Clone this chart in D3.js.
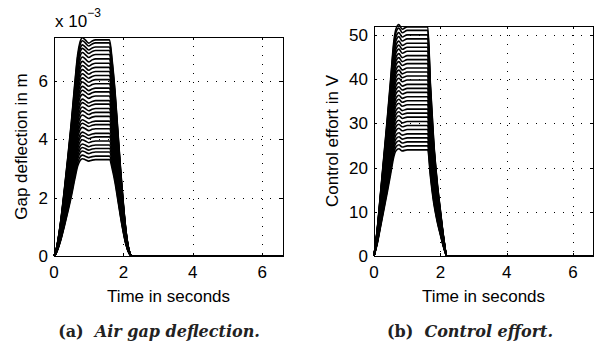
<!DOCTYPE html>
<html>
<head>
<meta charset="utf-8">
<script src="https://cdn.jsdelivr.net/npm/d3@7"></script>
<style>
  body { margin: 0; background: #fff; }
  svg { display: block; }
  text { font-family: "Liberation Sans", Arial, sans-serif; fill: #000; }
  .caption { font-family: "DejaVu Serif", "Liberation Serif", serif; font-weight: bold; fill: #222; }
</style>
</head>
<body>
<div id="chart"></div>
<script>
// plateau level of each run
const gapLevels = [0.00330, 0.00342, 0.00356, 0.00368, 0.00380, 0.00394, 0.00408, 0.00420,
  0.00436, 0.00450, 0.00462, 0.00478, 0.00492, 0.00505, 0.00520, 0.00532, 0.00548, 0.00562,
  0.00575, 0.00590, 0.00604, 0.00618, 0.00632, 0.00646, 0.00660, 0.00675, 0.00690, 0.00704,
  0.00716, 0.00730, 0.00740];
const effortLevels = [24.0, 24.9, 25.8, 26.7, 27.6, 28.6, 29.5, 30.4, 31.4, 32.3, 33.2,
  34.2, 35.1, 36.0, 37.0, 37.9, 38.8, 39.8, 40.7, 41.6, 42.5, 43.5, 44.4, 45.3, 46.3,
  47.2, 48.1, 49.1, 50.0, 51.0, 51.8];

// normalised time profile of one run (fraction of its plateau level)
const gapTime  = [0, 0.05, 0.1, 0.2, 0.3, 0.4, 0.5, 0.6, 0.68, 0.75, 0.82, 0.9, 1.0, 1.1, 1.2, 1.5,
  1.6, 1.68, 1.76, 1.84, 1.92, 2.0, 2.08, 2.16, 2.25, 6.6];
const gapShape = [0, 0.02, 0.06, 0.17, 0.31, 0.46, 0.62, 0.8, 0.93, 0.99, 1.01, 1.0, 0.985, 0.995, 1.0, 1.0,
  1.0, 0.9, 0.76, 0.58, 0.4, 0.24, 0.11, 0.03, 0, 0];
const effortTime  = [0, 0.1, 0.2, 0.3, 0.4, 0.5, 0.6, 0.66, 0.75, 0.85, 1.0, 1.55, 1.62,
  1.7, 1.8, 1.9, 2.0, 2.1, 2.2, 6.6];
const effortShape = [0, 0.12, 0.28, 0.44, 0.6, 0.77, 0.94, 0.99, 1.01, 0.99, 1.0, 1.0, 1.0,
  0.75, 0.5, 0.33, 0.2, 0.08, 0, 0];

const xTicks = [0, 2, 4, 6];
const gapTicks = [0, 0.002, 0.004, 0.006];
const effortTicks = [0, 10, 20, 30, 40, 50];

const svg = d3.select("#chart").append("svg")
  .attr("width", 600)
  .attr("height", 349);

function panel(opt) {
  const x = d3.scaleLinear().domain([0, 6.6]).range([opt.x0, opt.x1]);
  const y = d3.scaleLinear().domain([0, opt.yMax]).range([opt.y1, opt.y0]);
  const g = svg.append("g");

  // dotted grid
  g.selectAll(".gx").data(xTicks.slice(1)).enter().append("line")
    .attr("x1", d => Math.round(x(d)) + 0.5).attr("x2", d => Math.round(x(d)) + 0.5)
    .attr("y1", opt.y0).attr("y2", opt.y1)
    .attr("stroke", "#000").attr("stroke-dasharray", "1,8");
  g.selectAll(".gy").data(opt.ticks.slice(1)).enter().append("line")
    .attr("x1", opt.x0).attr("x2", opt.x1)
    .attr("y1", d => Math.round(y(d)) + 0.5).attr("y2", d => Math.round(y(d)) + 0.5)
    .attr("stroke", "#000").attr("stroke-dasharray", "1,8");

  // runs
  const line = d3.line().x(d => x(d[0])).y(d => y(d[1])).curve(d3.curveMonotoneX);
  opt.levels.forEach(a => {
    const pts = opt.time.map((t, i) => [t, a * opt.shape[i]]);
    g.append("path").attr("d", line(pts))
      .attr("fill", "none").attr("stroke", "#000").attr("stroke-width", 1.6);
  });

  // box
  g.append("rect")
    .attr("x", opt.x0 + 0.5).attr("y", opt.y0 + 0.5)
    .attr("width", opt.x1 - opt.x0).attr("height", opt.y1 - opt.y0)
    .attr("fill", "none").attr("stroke", "#000");

  // inside ticks on all four sides
  const tl = 3;
  xTicks.forEach(d => {
    const px = Math.round(x(d)) + 0.5;
    g.append("line").attr("x1", px).attr("x2", px).attr("y1", opt.y1).attr("y2", opt.y1 - tl).attr("stroke", "#000");
    g.append("line").attr("x1", px).attr("x2", px).attr("y1", opt.y0).attr("y2", opt.y0 + tl).attr("stroke", "#000");
  });
  opt.ticks.forEach(d => {
    const py = Math.round(y(d)) + 0.5;
    g.append("line").attr("x1", opt.x0).attr("x2", opt.x0 + tl).attr("y1", py).attr("y2", py).attr("stroke", "#000");
    g.append("line").attr("x1", opt.x1).attr("x2", opt.x1 - tl).attr("y1", py).attr("y2", py).attr("stroke", "#000");
  });

  // tick labels
  g.selectAll(".xl").data(xTicks).enter().append("text")
    .attr("x", d => x(d)).attr("y", opt.y1 + 22)
    .attr("text-anchor", "middle").attr("font-size", 17)
    .text(d => d);
  g.selectAll(".yl").data(opt.ticks).enter().append("text")
    .attr("x", opt.x0 - 6).attr("y", d => y(d) + 6)
    .attr("text-anchor", "end").attr("font-size", 17)
    .text(opt.fmt);

  // axis titles
  g.append("text")
    .attr("x", (opt.x0 + opt.x1) / 2).attr("y", 302)
    .attr("text-anchor", "middle").attr("font-size", 17)
    .text("Time in seconds");
  g.append("text")
    .attr("transform", `translate(${opt.labelX},${(opt.y0 + opt.y1) / 2}) rotate(-90)`)
    .attr("text-anchor", "middle").attr("font-size", 17)
    .text(opt.yLabel);

  // caption
  const cap = g.append("text").attr("class", "caption")
    .attr("x", opt.capX).attr("y", 337)
    .attr("text-anchor", "middle").attr("font-size", 16);
  cap.append("tspan").text(opt.capTag + "\u00a0\u00a0");
  cap.append("tspan").attr("font-style", "italic").text(opt.capText);
  return g;
}

const left = panel({
  x0: 54, x1: 283, y0: 37, y1: 256, yMax: 0.0075,
  levels: gapLevels, time: gapTime, shape: gapShape,
  ticks: gapTicks, fmt: d => Math.round(d * 1000),
  yLabel: "Gap deflection in m", labelX: 27,
  capX: 159, capTag: "(a)", capText: "Air gap deflection."
});

// exponent label
const exp = left.append("text").attr("x", 55).attr("y", 27).attr("font-size", 17);
exp.append("tspan").text("x 10");
exp.append("tspan").attr("dy", -10).attr("font-size", 12).text("\u22123");

panel({
  x0: 374, x1: 593, y0: 26, y1: 256, yMax: 52,
  levels: effortLevels, time: effortTime, shape: effortShape,
  ticks: effortTicks, fmt: d => d,
  yLabel: "Control effort in V", labelX: 338,
  capX: 470, capTag: "(b)", capText: "Control effort."
});
</script>
</body>
</html>
